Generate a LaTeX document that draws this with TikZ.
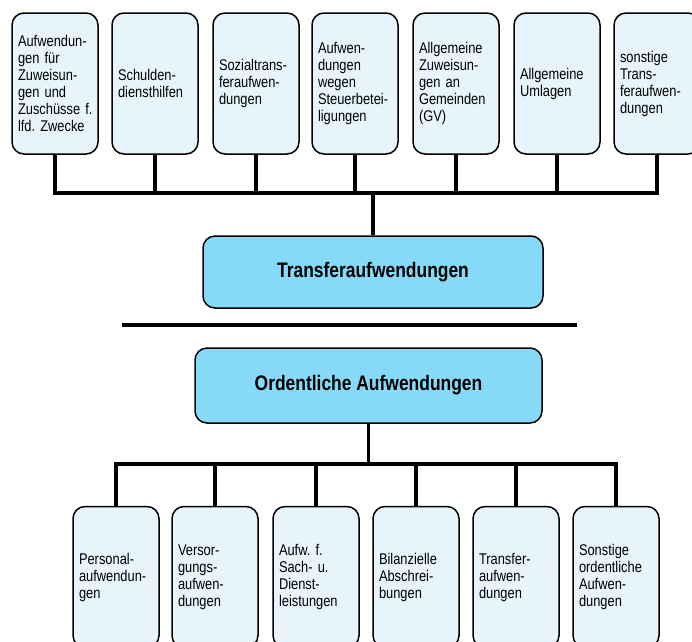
\documentclass[tikz,border=0pt]{standalone}
\usepackage{fontspec}
\setmainfont{Liberation Sans}[FakeStretch=0.83]
\usepackage{xcolor}
\definecolor{kastenhell}{RGB}{232,244,252}
\definecolor{kastenblau}{RGB}{135,218,247}
\frenchspacing

\begin{document}
\begin{tikzpicture}[x=1pt,y=-1pt,
  klein/.style={draw=black,line width=1.5pt,rounded corners=12pt,fill=kastenhell,
    minimum width=86pt,minimum height=141pt,text width=74pt,inner xsep=6pt,
    align=left,font=\fontsize{15.5}{17}\selectfont},
  haupt/.style={draw=black,line width=1.5pt,rounded corners=12pt,fill=kastenblau,
    font=\fontsize{21}{24}\selectfont\bfseries},
  linie/.style={line width=3.5pt}]
\clip (0,0) rectangle (692,641);

% obere Reihe
\node[klein] (t1) at (55,83.5) {Aufwendun-\\gen für\\Zuweisun-\\gen und\\Zuschüsse~f.\\lfd. Zwecke};
\node[klein] (t2) at (155,83.5) {Schulden-\\diensthilfen};
\node[klein] (t3) at (256,83.5) {Sozialtrans-\\feraufwen-\\dungen};
\node[klein] (t4) at (355,83.5) {Aufwen-\\dungen\\wegen\\Steuerbetei-\\ligungen};
\node[klein] (t5) at (456,83.5) {Allgemeine\\Zuweisun-\\gen an\\Gemeinden\\(GV)};
\node[klein] (t6) at (557,83.5) {Allgemeine\\Umlagen};
\node[klein] (t7) at (657,83.5) {sonstige\\Trans-\\feraufwen-\\dungen};

\node[haupt,minimum width=340pt,minimum height=72pt] (transfer) at (373,272) {Transferaufwendungen};
\coordinate (oben) at (373,193);

\draw[linie] (t1.south) -- (t1.south |- oben) -- (t7.south |- oben) -- (t7.south);
\draw[linie] (t2.south) -- (t2.south |- oben);
\draw[linie] (t3.south) -- (t3.south |- oben);
\draw[linie] (t4.south) -- (t4.south |- oben);
\draw[linie] (t5.south) -- (t5.south |- oben);
\draw[linie] (t6.south) -- (t6.south |- oben);
\draw[linie] (oben) -- (transfer.north);

% Trennlinie
\draw[line width=4pt] (122,325) -- (577,325);

% untere Reihe
\node[haupt,minimum width=347pt,minimum height=75pt] (ordentlich) at (368.5,385.5) {Ordentliche Aufwendungen};
\coordinate (unten) at (368.5,464);

\node[klein] (u1) at (116,577) {Personal-\\aufwendun-\\gen};
\node[klein] (u2) at (215,577) {Versor-\\gungs-\\aufwen-\\dungen};
\node[klein] (u3) at (316,577) {Aufw. f.\\Sach- u.\\Dienst-\\leistungen};
\node[klein] (u4) at (416,577) {Bilanzielle\\Abschrei-\\bungen};
\node[klein] (u5) at (516,577) {Transfer-\\aufwen-\\dungen};
\node[klein] (u6) at (616,577) {Sonstige\\ordentliche\\Aufwen-\\dungen};

\draw[linie] (ordentlich.south) -- (unten);
\draw[linie] (u1.north) -- (u1.north |- unten) -- (u6.north |- unten) -- (u6.north);
\draw[linie] (u2.north) -- (u2.north |- unten);
\draw[linie] (u3.north) -- (u3.north |- unten);
\draw[linie] (u4.north) -- (u4.north |- unten);
\draw[linie] (u5.north) -- (u5.north |- unten);
\end{tikzpicture}
\end{document}
